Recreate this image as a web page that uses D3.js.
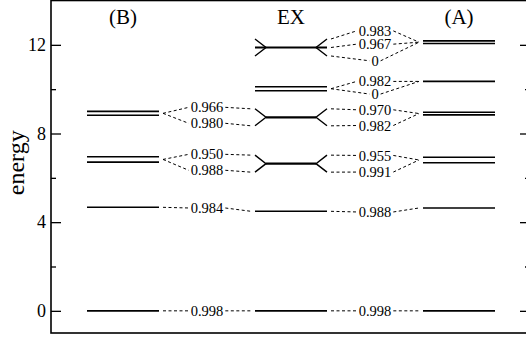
<!DOCTYPE html>
<html>
<head>
<meta charset="utf-8">
<script src="https://cdnjs.cloudflare.com/ajax/libs/d3/7.8.5/d3.min.js"></script>
<style>
  body { margin: 0; background: #fff; }
  svg { display: block; font-family: "Liberation Serif", "DejaVu Serif", serif; }
</style>
</head>
<body>
<script>
// energy levels of each column
var levelsB = [0, 4.67, 6.71, 6.95, 8.82, 9.0];
var levelsEX = [0, 4.49, 6.64, 8.73, 9.93, 10.11, 11.88];
var fanEX = [0, 0, 1, 1, 0, 0, 2];   // 1 = fan ends, 2 = fan ends over full line
var levelsA = [0, 4.64, 6.68, 6.93, 8.84, 8.96, 10.35, 12.06, 12.18];

// overlaps between (B) and EX
var bxLabels = ["0.998", "0.984", "0.988", "0.950", "0.980", "0.966"];
var bxLabelE = [0, 4.64, 6.34, 7.06, 8.46, 9.18];
var bxFromB = [[0], [1], [2, 3], [2, 3], [4, 5], [4, 5]];
var bxToEX = [0, 1, 2, 2, 3, 3];
var bxTip = [0, 0, -1, 1, -1, 1];

// overlaps between EX and (A)
var xaLabels = ["0.998", "0.988", "0.991", "0.955", "0.982", "0.970", "0", "0.982", "0", "0.967", "0.983"];
var xaLabelE = [0, 4.46, 6.26, 7.01, 8.36, 9.07, 9.78, 10.35, 11.28, 12.03, 12.63];
var xaFromEX = [[0], [1], [2], [2], [3], [3], [4, 5], [4, 5], [6], [6], [6]];
var xaTip = [0, 0, -1, 1, -1, 1, 0, 0, -1, 0, 1];
var xaToA = [[0], [1], [2, 3], [2, 3], [4, 5], [4, 5], [6], [6], [7, 8], [7, 8], [7, 8]];

var columns = ["B", "BX", "EX", "XA", "A"];
var headers = [["B", "(B)"], ["EX", "EX"], ["A", "(A)"]];
var majorTicks = [0, 4, 8, 12];
var minorTicks = [2, 6, 10];

var W = 526, H = 337;
var pLeft = 51, pRight = 530, pTop = 0.5, pBottom = 333;
var halfW = 36, innerW = 25, tipDy = 8.5, gap = 4;

var svg = d3.select("body").append("svg")
    .attr("width", W)
    .attr("height", H);

var x = d3.scalePoint().domain(columns).range([123, 459]);
var y = d3.scaleLinear().domain([-1, 14]).range([pBottom, pTop]);

// axes
var axL = svg.append("g").attr("transform", "translate(" + pLeft + ",0)")
    .call(d3.axisLeft(y).tickValues(majorTicks).tickSize(-10).tickPadding(5).tickFormat(d3.format("d")));
svg.append("g").attr("transform", "translate(" + pLeft + ",0)")
    .call(d3.axisLeft(y).tickValues(minorTicks).tickSize(-5).tickFormat(""));
svg.append("g").attr("transform", "translate(" + pRight + ",0)")
    .call(d3.axisRight(y).tickValues(majorTicks).tickSize(-10).tickFormat(""));
svg.append("g").attr("transform", "translate(" + pRight + ",0)")
    .call(d3.axisRight(y).tickValues(minorTicks).tickSize(-5).tickFormat(""));
svg.selectAll(".domain").remove();
svg.selectAll(".tick line").attr("stroke", "#000").attr("stroke-width", 1.3);
axL.selectAll(".tick text")
    .attr("font-family", "Liberation Serif")
    .attr("font-size", 18)
    .attr("fill", "#000");

svg.append("rect")
    .attr("x", pLeft).attr("y", pTop)
    .attr("width", pRight - pLeft).attr("height", pBottom - pTop)
    .attr("fill", "none").attr("stroke", "#000").attr("stroke-width", 1.6);

svg.append("text")
    .attr("transform", "translate(16," + ((pTop + pBottom) / 2 - 4) + ") rotate(-90)")
    .attr("text-anchor", "middle")
    .attr("dy", "0.35em")
    .attr("font-size", 24)
    .text("energy");

svg.selectAll(".header").data(headers).enter().append("text")
    .attr("class", "header")
    .attr("x", function (d) { return x(d[0]); })
    .attr("y", 17)
    .attr("dy", "0.35em")
    .attr("text-anchor", "middle")
    .attr("font-size", 21)
    .text(function (d) { return d[1]; });

// plain levels
function drawLevels(vals, col) {
    svg.selectAll(".lv" + col).data(vals).enter().append("line")
        .attr("class", "lv" + col)
        .attr("x1", x(col) - halfW).attr("x2", x(col) + halfW)
        .attr("y1", function (d) { return y(d); })
        .attr("y2", function (d) { return y(d); })
        .attr("stroke", "#000").attr("stroke-width", 1.6);
}
drawLevels(levelsB, "B");
drawLevels(levelsA, "A");

// EX levels, some with fan ends
var cx = x("EX");
levelsEX.forEach(function (e, i) {
    var yy = y(e), f = fanEX[i];
    var w = f === 1 ? innerW : halfW;
    svg.append("line")
        .attr("x1", cx - w).attr("x2", cx + w)
        .attr("y1", yy).attr("y2", yy)
        .attr("stroke", "#000").attr("stroke-width", f ? 2.2 : 1.6);
    if (f) {
        [-1, 1].forEach(function (s) {
            svg.append("path")
                .attr("d", "M" + (cx + s * halfW) + "," + (yy - tipDy) +
                    "L" + (cx + s * innerW) + "," + yy +
                    "L" + (cx + s * halfW) + "," + (yy + tipDy))
                .attr("fill", "none").attr("stroke", "#000").attr("stroke-width", 1.4);
        });
    }
});

function meanE(vals, idx) {
    return d3.mean(idx, function (k) { return vals[k]; });
}

function dashed(x1, y1, x2, y2) {
    svg.append("line")
        .attr("x1", x1).attr("y1", y1).attr("x2", x2).attr("y2", y2)
        .attr("stroke", "#000").attr("stroke-width", 1)
        .attr("stroke-dasharray", "3,2.5");
}

function label(col, txt, e) {
    var t = svg.append("text")
        .attr("x", x(col)).attr("y", y(e))
        .attr("dy", "0.35em")
        .attr("text-anchor", "middle")
        .attr("font-size", 14.5)
        .text(txt);
    var w = t.node().getComputedTextLength();
    return [x(col) - w / 2 - 2, x(col) + w / 2 + 2];
}

// B -> EX connections
bxLabels.forEach(function (txt, i) {
    var ext = label("BX", txt, bxLabelE[i]);
    var ly = y(bxLabelE[i]);
    dashed(x("B") + halfW + gap, y(meanE(levelsB, bxFromB[i])), ext[0], ly);
    var ex = bxToEX[i];
    dashed(ext[1], ly, cx - halfW - gap, y(levelsEX[ex]) - bxTip[i] * tipDy);
});

// EX -> A connections
xaLabels.forEach(function (txt, i) {
    var ext = label("XA", txt, xaLabelE[i]);
    var ly = y(xaLabelE[i]);
    var ye = y(meanE(levelsEX, xaFromEX[i])) - xaTip[i] * tipDy;
    dashed(cx + halfW + gap, ye, ext[0], ly);
    dashed(ext[1], ly, x("A") - halfW - gap, y(meanE(levelsA, xaToA[i])));
});
</script>
</body>
</html>
